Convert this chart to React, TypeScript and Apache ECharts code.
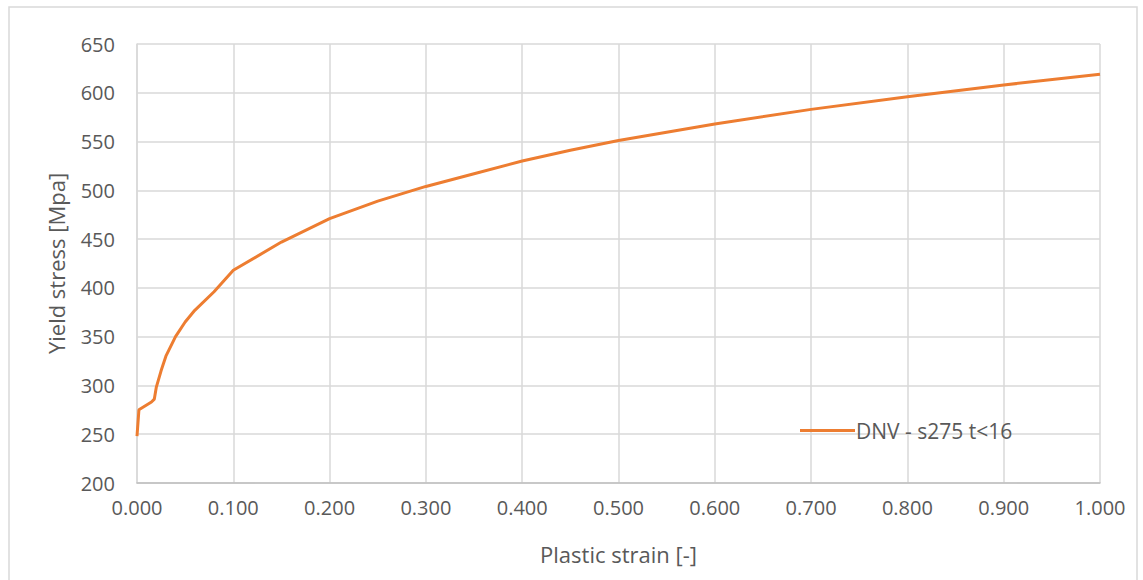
import React, { useEffect, useRef } from "react";
import * as echarts from "echarts";

const seriesName = "DNV - s275 t<16";
const plasticStrain = [0, 0.002, 0.015, 0.018, 0.02, 0.025, 0.03, 0.04, 0.05, 0.06, 0.08, 0.1, 0.15, 0.2, 0.25, 0.3, 0.35, 0.4, 0.45, 0.5, 0.6, 0.7, 0.8, 0.9, 1.0];
const yieldStress = [248, 275, 283, 286, 298, 315, 330, 350, 365, 377, 396, 418, 447, 471, 489, 504, 517, 530, 541, 551, 568, 583, 596, 608, 619];
const xAxisName = "Plastic strain [-]";
const yAxisName = "Yield stress [Mpa]";

const FONT = "'Open Sans', sans-serif";
const TXT = "#595959";

export default function App() {
  const ref = useRef<HTMLDivElement>(null);
  useEffect(() => {
    if (!ref.current) return;
    const chart = echarts.init(ref.current, undefined, { renderer: "svg" });
    const data = plasticStrain.map((x, i) => [x, yieldStress[i]]);
    chart.setOption({
      animation: false,
      backgroundColor: "#ffffff",
      textStyle: { fontFamily: FONT },
      graphic: [
        {
          type: "rect",
          shape: { x: 9, y: 7, width: 1128, height: 600 },
          style: { fill: "none", stroke: "#d9d9d9", lineWidth: 1.5 },
          silent: true,
        },
      ],
      grid: { left: 137, right: 43, top: 44, bottom: 97 },
      legend: {
        left: 795,
        top: 415,
        icon: "rect",
        itemWidth: 55,
        itemHeight: 3,
        itemGap: 0,
        textStyle: { color: TXT, fontSize: 21, fontFamily: FONT, padding: [0, 0, 0, -4] },
        data: [seriesName],
      },
      xAxis: {
        type: "value",
        min: 0,
        max: 1,
        interval: 0.1,
        name: xAxisName,
        nameLocation: "middle",
        nameGap: 60,
        nameTextStyle: { color: TXT, fontSize: 22, fontFamily: FONT },
        axisLine: { show: true, lineStyle: { color: "#bfbfbf", width: 1.5 } },
        axisTick: { show: false },
        axisLabel: {
          color: TXT,
          fontSize: 20,
          margin: 14,
          fontFamily: FONT,
          formatter: (v: number) => v.toFixed(3),
        },
        splitLine: { show: true, lineStyle: { color: "#d9d9d9", width: 1.5 } },
      },
      yAxis: {
        type: "value",
        min: 200,
        max: 650,
        interval: 50,
        name: yAxisName,
        nameLocation: "middle",
        nameGap: 70,
        nameTextStyle: { color: TXT, fontSize: 22, fontFamily: FONT },
        axisLine: { show: true, lineStyle: { color: "#d9d9d9", width: 1.5 } },
        axisTick: { show: false },
        axisLabel: { color: TXT, fontSize: 20, margin: 22, fontFamily: FONT },
        splitLine: { show: true, lineStyle: { color: "#d9d9d9", width: 1.5 } },
      },
      series: [
        {
          name: seriesName,
          type: "line",
          data,
          showSymbol: false,
          symbol: "none",
          lineStyle: { color: "#ED7D31", width: 3 },
          itemStyle: { color: "#ED7D31" },
        },
      ],
    });
    return () => chart.dispose();
  }, []);
  return (
    <div
      ref={ref}
      style={{ position: "fixed", left: 0, top: 0, width: 1143, height: 580 }}
    />
  );
}
